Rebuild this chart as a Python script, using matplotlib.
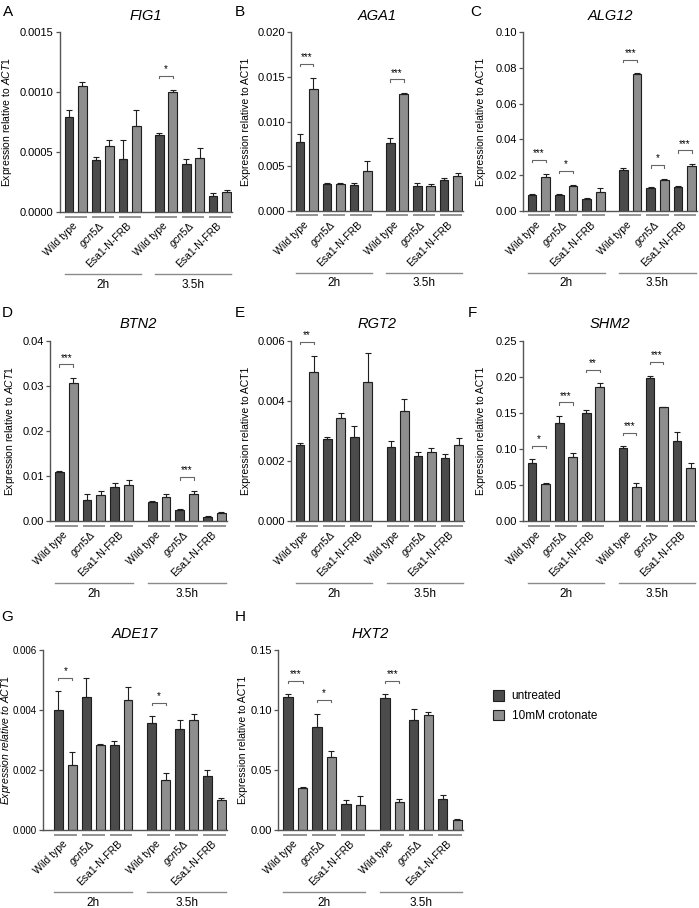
import numpy as np
import matplotlib
matplotlib.use("Agg")
import matplotlib.pyplot as plt
from matplotlib.patches import Patch
from matplotlib.ticker import FormatStrFormatter

plt.rcParams['font.family'] = ['Liberation Sans', 'DejaVu Sans']
plt.rcParams['mathtext.fontset'] = 'custom'
plt.rcParams['mathtext.rm'] = 'Liberation Sans'
plt.rcParams['mathtext.it'] = 'Liberation Sans:italic'

# strains in order: WT, gcn5, Esa1 at 2h, then same at 3.5h
strain_labels = ["Wild type", r"$\it{gcn5}$Δ", "Esa1-N-FRB"] * 2
time_labels = ["2h", "3.5h"]
legend_labels = ["untreated", "10mM crotonate"]

FIG1_unt = [0.00079, 0.00043, 0.00044, 0.00064, 0.00040, 0.00013]
FIG1_unt_err = [0.00006, 0.00003, 0.00016, 0.00002, 0.00004, 0.00003]
FIG1_cro = [0.00105, 0.00055, 0.00072, 0.00100, 0.00045, 0.00017]
FIG1_cro_err = [0.00003, 0.00005, 0.00013, 0.00002, 0.00008, 0.00001]
FIG1_sig = [(3, "*")]

AGA1_unt = [0.0077, 0.0030, 0.0029, 0.0076, 0.0028, 0.0035]
AGA1_unt_err = [0.0009, 0.0001, 0.0002, 0.0006, 0.0003, 0.0002]
AGA1_cro = [0.0136, 0.0030, 0.0045, 0.0131, 0.0028, 0.0039]
AGA1_cro_err = [0.0013, 0.0001, 0.0011, 0.0001, 0.0002, 0.0004]
AGA1_sig = [(0, "***"), (3, "***")]

ALG12_unt = [0.0092, 0.0088, 0.0067, 0.0230, 0.0130, 0.0135]
ALG12_unt_err = [0.0005, 0.0007, 0.0008, 0.0010, 0.0005, 0.0004]
ALG12_cro = [0.0188, 0.0142, 0.0108, 0.0763, 0.0175, 0.0253]
ALG12_cro_err = [0.0020, 0.0005, 0.0022, 0.0007, 0.0005, 0.0010]
ALG12_sig = [(0, "***"), (1, "*"), (3, "***"), (4, "*"), (5, "***")]

BTN2_unt = [0.0110, 0.0047, 0.0076, 0.0042, 0.0025, 0.0010]
BTN2_unt_err = [0.0002, 0.0012, 0.0009, 0.0003, 0.0001, 0.0001]
BTN2_cro = [0.0306, 0.0058, 0.0080, 0.0054, 0.0060, 0.0017]
BTN2_cro_err = [0.0012, 0.0009, 0.0012, 0.0005, 0.0007, 0.0002]
BTN2_sig = [(0, "***"), (4, "***")]

RGT2_unt = [0.00252, 0.00273, 0.00279, 0.00248, 0.00216, 0.00209]
RGT2_unt_err = [0.00008, 0.00008, 0.00038, 0.00020, 0.00015, 0.00015]
RGT2_cro = [0.00496, 0.00345, 0.00462, 0.00366, 0.00231, 0.00254]
RGT2_cro_err = [0.00055, 0.00015, 0.00097, 0.00040, 0.00012, 0.00023]
RGT2_sig = [(0, "**")]

SHM2_unt = [0.081, 0.136, 0.150, 0.101, 0.199, 0.111]
SHM2_unt_err = [0.005, 0.010, 0.004, 0.003, 0.003, 0.012]
SHM2_cro = [0.052, 0.089, 0.186, 0.047, 0.158, 0.074]
SHM2_cro_err = [0.001, 0.005, 0.005, 0.006, 0.001, 0.007]
SHM2_sig = [(0, "*"), (1, "***"), (2, "**"), (3, "***"), (4, "***")]

ADE17_unt = [0.00400, 0.00443, 0.00282, 0.00357, 0.00338, 0.00179]
ADE17_unt_err = [0.00063, 0.00063, 0.00015, 0.00023, 0.00030, 0.00020]
ADE17_cro = [0.00218, 0.00284, 0.00432, 0.00166, 0.00368, 0.00099]
ADE17_cro_err = [0.00043, 0.00002, 0.00045, 0.00023, 0.00018, 0.00008]
ADE17_sig = [(0, "*"), (3, "*")]

HXT2_unt = [0.111, 0.086, 0.022, 0.110, 0.092, 0.026]
HXT2_unt_err = [0.002, 0.011, 0.003, 0.003, 0.009, 0.003]
HXT2_cro = [0.035, 0.061, 0.021, 0.023, 0.096, 0.008]
HXT2_cro_err = [0.001, 0.005, 0.007, 0.003, 0.002, 0.001]
HXT2_sig = [(0, "***"), (1, "*"), (3, "***")]

DARK = "#4b4b4b"
LIGHT = "#8e8e8e"
LINE = "#8a8a8a"

act = r"Expression relative to $\it{ACT1}$"
act_plain = "Expression relative to ACT1"
act_all_it = r"$\it{Expression\ relative\ to\ ACT1}$"

# letter, gene, data..., ymax, step, fmt, ylabel, axes box (px: left, right, top, bottom),
# ylabel centre x px, xleft, letter position px, tick label size
panels = [
    ("A", "FIG1", FIG1_unt, FIG1_unt_err, FIG1_cro, FIG1_cro_err, FIG1_sig, 0.0015, 0.0005, "%.4f", act,
     (60, 232, 32, 212), 9, -0.67, (3, 12), 8),
    ("B", "AGA1", AGA1_unt, AGA1_unt_err, AGA1_cro, AGA1_cro_err, AGA1_sig, 0.020, 0.005, "%.3f", act_plain,
     (291, 463, 32, 211), 246, -0.67, (235, 12), 8),
    ("C", "ALG12", ALG12_unt, ALG12_unt_err, ALG12_cro, ALG12_cro_err, ALG12_sig, 0.10, 0.02, "%.2f", act_plain,
     (523, 697, 32, 211), 481, -0.67, (470, 12), 8),
    ("D", "BTN2", BTN2_unt, BTN2_unt_err, BTN2_cro, BTN2_cro_err, BTN2_sig, 0.04, 0.01, "%.2f", act,
     (50, 227, 341, 521), 12, -0.67, (2, 313), 8),
    ("E", "RGT2", RGT2_unt, RGT2_unt_err, RGT2_cro, RGT2_cro_err, RGT2_sig, 0.006, 0.002, "%.3f", act_plain,
     (291, 464, 341, 521), 246, -0.67, (235, 313), 8),
    ("F", "SHM2", SHM2_unt, SHM2_unt_err, SHM2_cro, SHM2_cro_err, SHM2_sig, 0.25, 0.05, "%.2f", act_plain,
     (523, 696, 341, 521), 481, -0.67, (468, 313), 8),
    ("G", "ADE17", ADE17_unt, ADE17_unt_err, ADE17_cro, ADE17_cro_err, ADE17_sig, 0.006, 0.002, "%.3f", act_all_it,
     (43, 227, 650, 830), 8, -1.1, (1, 617), 7),
    ("H", "HXT2", HXT2_unt, HXT2_unt_err, HXT2_cro, HXT2_cro_err, HXT2_sig, 0.15, 0.05, "%.2f", act_plain,
     (278, 463, 650, 830), 243, -0.7, (235, 617), 8),
]

W, H = 699, 908
fig = plt.figure(figsize=(W / 100, H / 100), dpi=100)

base = np.array([0, 2, 4, 6.7, 8.7, 10.7])
bw = 0.64

for (letter, gene, unt, unt_err, cro, cro_err, sig, ymax, step, fmt, ylab,
     box, ylab_x, xleft, lpos, tsize) in panels:
    left, right, top, bottom = box
    ax = fig.add_axes([left / W, 1 - bottom / H, (right - left) / W, (bottom - top) / H])
    zeros = np.zeros(len(unt))
    ax.bar(base, unt, bw, color=DARK, edgecolor="#1e1e1e", linewidth=0.8,
           yerr=[zeros, unt_err], error_kw=dict(elinewidth=0.8, capsize=2, capthick=0.8, ecolor="#1e1e1e"))
    ax.bar(base + 1, cro, bw, color=LIGHT, edgecolor="#1e1e1e", linewidth=0.8,
           yerr=[zeros, cro_err], error_kw=dict(elinewidth=0.8, capsize=2, capthick=0.8, ecolor="#1e1e1e"))

    ax.set_xlim(xleft, 12.1)
    ax.set_ylim(0, ymax)
    ax.set_yticks(np.arange(0, ymax + step / 2, step))
    ax.yaxis.set_major_formatter(FormatStrFormatter(fmt))
    ax.tick_params(axis="y", labelsize=tsize, length=3, width=0.9, color="#555555", pad=1.5)
    ax.set_xticks(base + 0.5)
    ax.set_xticklabels(strain_labels, rotation=45, ha="right", va="center",
                       rotation_mode="anchor", fontsize=7.5)
    ax.tick_params(axis="x", length=0, pad=9)
    for s in ["top", "right"]:
        ax.spines[s].set_visible(False)
    for s in ["left", "bottom"]:
        ax.spines[s].set_color("#555555")
        ax.spines[s].set_linewidth(1.0)

    ax.set_ylabel(ylab, fontsize=7.5)
    ax.yaxis.set_label_coords((ylab_x + 5 - left) / (right - left), 0.5)
    ax.set_title(gene, fontsize=10.5, style="italic", pad=9)
    fig.text(lpos[0] / W, 1 - lpos[1] / H, letter, fontsize=11, va="center", ha="left")

    tr = ax.get_xaxis_transform()
    # line under each strain pair
    for b in base:
        ax.plot([b - bw / 2, b + 1 + bw / 2], [-0.025, -0.025], color=LINE, lw=1.3,
                transform=tr, clip_on=False, solid_capstyle="butt")
    # time group lines and labels
    for g, lab in enumerate(time_labels):
        x0 = base[3 * g] - bw / 2
        x1 = base[3 * g + 2] + 1 + bw / 2
        ax.plot([x0, x1], [-0.345, -0.345], color=LINE, lw=1.0, transform=tr, clip_on=False)
        ax.text((x0 + x1) / 2, -0.405, lab, transform=tr, ha="center", va="center", fontsize=8.5)

    # significance brackets
    for k, stars in sig:
        top_val = max(unt[k] + unt_err[k], cro[k] + cro_err[k])
        yb = top_val + 0.075 * ymax
        tick = 0.012 * ymax
        ax.plot([base[k], base[k], base[k] + 1, base[k] + 1], [yb - tick, yb, yb, yb - tick],
                color="#666666", lw=0.8)
        ax.text(base[k] + 0.5, yb + 0.01 * ymax, stars, ha="center", va="bottom", fontsize=7)

handles = [Patch(facecolor=DARK, edgecolor="#1e1e1e", linewidth=0.8),
           Patch(facecolor=LIGHT, edgecolor="#1e1e1e", linewidth=0.8)]
fig.legend(handles, legend_labels, loc="center left", bbox_to_anchor=(482 / W, 1 - 706 / H),
           frameon=False, fontsize=8.5, handlelength=1.0, handleheight=1.0, handletextpad=0.6,
           labelspacing=0.6)

fig.savefig("out.png", dpi=100)
